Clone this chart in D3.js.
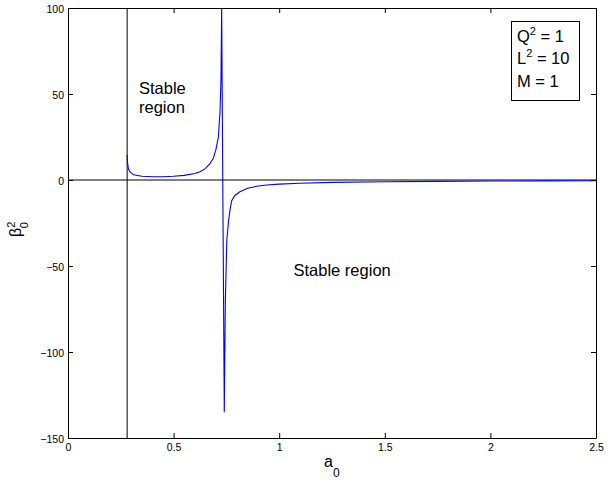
<!DOCTYPE html>
<html>
<head>
<meta charset="utf-8">
<script src="https://cdn.jsdelivr.net/npm/d3@7"></script>
<style>
  body { margin: 0; background: #fff; }
  text { font-family: "Liberation Sans", Arial, Helvetica, sans-serif; }
</style>
</head>
<body>
<div id="T"></div>
<script>
// curve: a0 vs beta0^2
const aVals = [0.280, 0.282, 0.286, 0.293, 0.31, 0.35, 0.40, 0.45, 0.50, 0.55, 0.60, 0.625, 0.65, 0.67, 0.688, 0.70, 0.712, 0.72, 0.7245, 0.7275,
  0.740, 0.745, 0.752, 0.760, 0.767, 0.775, 0.790, 0.814, 0.85, 0.90, 0.941, 1.0, 1.098, 1.25, 1.5, 1.75, 2.0, 2.25, 2.5];
const betaVals = [14.5, 10, 6.5, 4.8, 3.0, 2.2, 1.9, 1.9, 2.2, 2.7, 3.8, 4.8, 6.6, 9.2, 12.6, 17.5, 25, 40, 60, 100,
  -135, -70, -35, -24, -17.4, -12, -9, -6.8, -4.8, -3.5, -2.9, -2.4, -1.9, -1.4, -1.0, -0.8, -0.6, -0.5, -0.4];
const xTicks = [0, 0.5, 1, 1.5, 2, 2.5];
const yTicks = [-150, -100, -50, 0, 50, 100];
const boundaryA = 0.280;
const legendLines = [["Q", "2", " = 1"], ["L", "2", " = 10"], ["M", "", " = 1"]];

const W = 608, H = 480;
const m = { left: 68, right: 12, top: 8, bottom: 42 };
const svg = d3.select('#T').append('svg').attr('width', W).attr('height', H);

const x = d3.scaleLinear().domain([0, 2.5]).range([m.left, W - m.right]);
const y = d3.scaleLinear().domain([-150, 100]).range([H - m.bottom, m.top]);

svg.append('clipPath').attr('id', 'clip')
  .append('rect').attr('x', m.left).attr('y', m.top)
  .attr('width', W - m.right - m.left).attr('height', H - m.bottom - m.top);

// reference lines
svg.append('line').attr('x1', x(0)).attr('x2', x(2.5)).attr('y1', y(0)).attr('y2', y(0))
  .attr('stroke', '#000').attr('stroke-width', 1);
svg.append('line').attr('x1', x(boundaryA)).attr('x2', x(boundaryA)).attr('y1', y(-150)).attr('y2', y(100))
  .attr('stroke', '#000').attr('stroke-width', 1);

const pts = aVals.map((a, i) => [a, betaVals[i]]);
svg.append('path').datum(pts)
  .attr('clip-path', 'url(#clip)')
  .attr('fill', 'none').attr('stroke', '#0000ff').attr('stroke-width', 1.1)
  .attr('d', d3.line().x(d => x(d[0])).y(d => y(d[1])));

// axes with inward ticks on all sides
const fmt = d => String(d).replace('-', '\u2212');
const gBottom = svg.append('g').attr('transform', `translate(0,${H - m.bottom})`)
  .call(d3.axisBottom(x).tickValues(xTicks).tickSizeInner(-5).tickSizeOuter(0).tickPadding(6).tickFormat(fmt));
const gLeft = svg.append('g').attr('transform', `translate(${m.left},0)`)
  .call(d3.axisLeft(y).tickValues(yTicks).tickSizeInner(-5).tickSizeOuter(0).tickPadding(4).tickFormat(fmt));
const gTop = svg.append('g').attr('transform', `translate(0,${m.top})`)
  .call(d3.axisTop(x).tickValues(xTicks).tickSizeInner(-5).tickSizeOuter(0).tickFormat(''));
const gRight = svg.append('g').attr('transform', `translate(${W - m.right},0)`)
  .call(d3.axisRight(y).tickValues(yTicks).tickSizeInner(-5).tickSizeOuter(0).tickFormat(''));
[gBottom, gLeft, gTop, gRight].forEach(g => {
  g.selectAll('path').attr('stroke', '#000').attr('stroke-width', 1);
  g.selectAll('line').attr('stroke', '#000');
  g.selectAll('text').attr('font-size', 10.5).attr('fill', '#000')
    .style('font-family', '"Liberation Sans", Arial, sans-serif');
});
gLeft.selectAll('text').attr('dy', '0.45em');

// region labels
const lab = svg.append('text').attr('font-size', 16.5).attr('fill', '#000');
lab.append('tspan').attr('x', 139).attr('y', 94).text('Stable');
lab.append('tspan').attr('x', 139).attr('y', 112.5).text('region');
svg.append('text').attr('x', 293.5).attr('y', 276).attr('font-size', 16.5).text('Stable region');

// parameter box
svg.append('rect').attr('x', 511.5).attr('y', 21.5).attr('width', 68).attr('height', 79)
  .attr('fill', '#fff').attr('stroke', '#000').attr('stroke-width', 1);
legendLines.forEach((l, i) => {
  const t = svg.append('text').attr('x', 517).attr('y', 41.5 + i * 22.5).attr('font-size', 16.5);
  t.append('tspan').text(l[0]);
  if (l[1]) t.append('tspan').attr('font-size', 11).attr('dy', -7).text(l[1]);
  t.append('tspan').attr('dy', l[1] ? 7 : 0).text(l[2]);
});

// axis titles
const xl = svg.append('text').attr('x', 324).attr('y', 467).attr('font-size', 16);
xl.append('tspan').text('a');
xl.append('tspan').attr('font-size', 12).attr('dy', 10).text('0');

const yl = svg.append('text').attr('transform', 'translate(21,237) rotate(-90)').attr('font-size', 16);
yl.append('tspan').text('\u03b2');
yl.append('tspan').attr('font-size', 11).attr('dy', -6).text('2');
yl.append('tspan').attr('font-size', 11).attr('dx', -6.5).attr('dy', 13).text('0');
</script>
</body>
</html>
